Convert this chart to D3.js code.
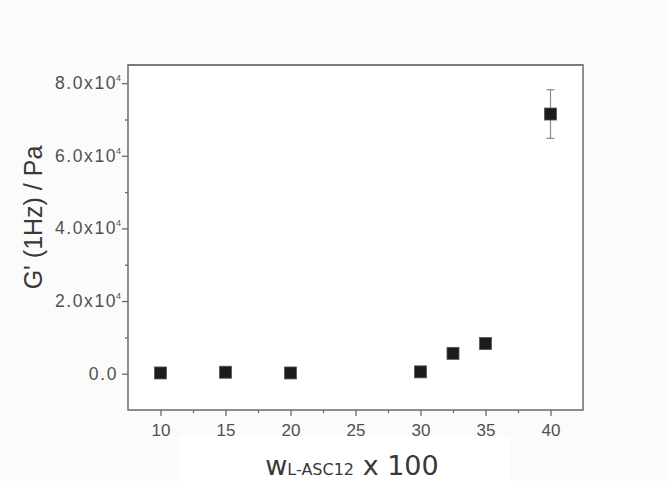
<!DOCTYPE html>
<html><head><meta charset="utf-8">
<script src="https://cdn.jsdelivr.net/npm/d3@7"></script>
<style>html,body{margin:0;padding:0;background:#fbfbfb;}</style>
</head><body>
<script>
const xValues = [10, 15, 20, 30, 32.5, 35, 40];
const yValues = [200, 400, 200, 500, 5600, 8300, 71500];
const yErrors = [0, 0, 0, 0, 0, 0, 6700];
const xTicks = [10, 15, 20, 25, 30, 35, 40];
const xMinorTicks = [12.5, 17.5, 22.5, 27.5, 32.5, 37.5];
const yTicks = [0, 20000, 40000, 60000, 80000];
const yMinorTicks = [10000, 30000, 50000, 70000];
const yTickMantissa = ["0.0", "2.0", "4.0", "6.0", "8.0"];

const W = 667, H = 481;
const m = {left: 128, right: 583, top: 65, bottom: 410};
const svg = d3.select("body").append("svg").attr("width", W).attr("height", H);

svg.append("rect").attr("x", 180).attr("y", 436).attr("width", 330).attr("height", 45).attr("fill", "#ffffff");
svg.append("rect").attr("x", m.left).attr("y", m.top).attr("width", m.right - m.left).attr("height", m.bottom - m.top).attr("fill", "#ffffff");

const x = d3.scaleLinear().domain([7.5, 42.5]).range([m.left, m.right]);
const y = d3.scaleLinear().domain([-10000, 85000]).range([m.bottom, m.top]);

const axisColor = "#6a6a6a";
const labelColor = "#505050";
const font = "'Liberation Sans', Arial, sans-serif";

// X axis
const gx = svg.append("g").attr("transform", `translate(0,${m.bottom})`)
  .call(d3.axisBottom(x).tickValues(xTicks).tickSize(6).tickPadding(8).tickFormat(d3.format("d")));
gx.append("g").call(d3.axisBottom(x).tickValues(xMinorTicks).tickSize(3).tickFormat(""));
// Y axis
const gy = svg.append("g").attr("transform", `translate(${m.left},0)`)
  .call(d3.axisLeft(y).tickValues(yTicks).tickSize(6).tickFormat(""));
gy.append("g").call(d3.axisLeft(y).tickValues(yMinorTicks).tickSize(3).tickFormat(""));

[gx, gy].forEach(g => {
  g.selectAll(".domain").remove();
  g.selectAll("line").attr("stroke", axisColor).attr("stroke-width", 1.3);
});
gx.selectAll("text").attr("font-family", font).attr("font-size", 17).attr("fill", labelColor);

// y tick labels with superscript
yTicks.forEach((v, i) => {
  const t = svg.append("text").attr("x", 121).attr("y", y(v) + 6)
    .attr("text-anchor", "end").attr("font-family", font).attr("font-size", 17.5)
    .attr("fill", labelColor);
  if (v === 0) {
    t.attr("x", 118).attr("letter-spacing", 1.6).text(yTickMantissa[i]);
  } else {
    t.append("tspan").attr("letter-spacing", 1.6).text(yTickMantissa[i] + "x1");
    t.append("tspan").text("0");
    t.append("tspan").attr("dy", -8).attr("dx", 0.5).attr("font-size", 9).text("4");
  }
});

// frame
svg.append("rect").attr("x", m.left).attr("y", m.top).attr("width", m.right - m.left).attr("height", m.bottom - m.top)
  .attr("fill", "none").attr("stroke", axisColor).attr("stroke-width", 1.5);
svg.append("line").attr("x1", m.left).attr("x2", m.right).attr("y1", m.top).attr("y2", m.top)
  .attr("stroke", "#7a7a7a").attr("stroke-width", 2.2);

// error bars
const data = xValues.map((d, i) => ({x: d, y: yValues[i], e: yErrors[i]}));
const eb = svg.append("g").selectAll("g").data(data.filter(d => d.e > 0)).join("g")
  .attr("stroke", "#8a8a8a").attr("stroke-width", 1.2);
eb.append("line").attr("x1", d => x(d.x)).attr("x2", d => x(d.x)).attr("y1", d => y(d.y + d.e)).attr("y2", d => y(d.y - d.e));
eb.append("line").attr("x1", d => x(d.x) - 4).attr("x2", d => x(d.x) + 4).attr("y1", d => y(d.y + d.e)).attr("y2", d => y(d.y + d.e));
eb.append("line").attr("x1", d => x(d.x) - 4).attr("x2", d => x(d.x) + 4).attr("y1", d => y(d.y - d.e)).attr("y2", d => y(d.y - d.e));

// markers
const s = 12;
svg.append("g").selectAll("rect").data(data).join("rect")
  .attr("x", d => x(d.x) - s / 2).attr("y", d => y(d.y) - s / 2).attr("width", s).attr("height", s)
  .attr("fill", "#1c1c1c").attr("stroke", "#555").attr("stroke-width", 0.8);

// x label
const xl = svg.append("text").attr("x", 352).attr("y", 475).attr("text-anchor", "middle")
  .attr("font-family", "'DejaVu Sans', sans-serif").attr("font-size", 27).attr("fill", "#383838");
xl.append("tspan").text("w");
xl.append("tspan").attr("font-size", 16).text("L-ASC12");
xl.append("tspan").text(" x 100");

// y label
svg.append("text").attr("transform", `translate(42,${(m.top + m.bottom) / 2 - 20}) rotate(-90)`)
  .attr("text-anchor", "middle").attr("font-family", font).attr("font-size", 25).attr("fill", "#383838")
  .text("G' (1Hz) / Pa");
</script>
</body></html>
